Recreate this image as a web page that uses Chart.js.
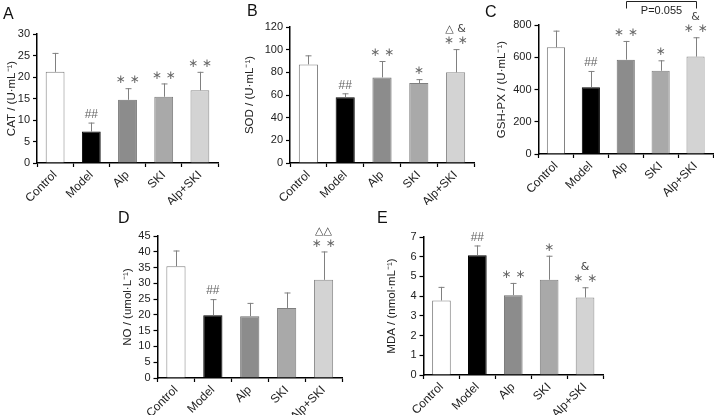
<!DOCTYPE html>
<html>
<head>
<meta charset="utf-8">
<script src="https://cdn.jsdelivr.net/npm/chart.js@4.4.0/dist/chart.umd.min.js"></script>
<style>
  body { margin: 0; background: #fff; }
  #wrap { position: relative; width: 714px; height: 415px; overflow: hidden; }
  canvas { position: absolute; }
  .lbl { position: absolute; font: 16px "Liberation Sans", Arial, sans-serif; color: #111; }
</style>
</head>
<body>
<div id="wrap">
  <canvas id="cA" width="228" height="205" style="left:0;top:0"></canvas>
  <canvas id="cB" width="248" height="205" style="left:232px;top:0"></canvas>
  <canvas id="cC" width="234" height="205" style="left:480px;top:0"></canvas>
  <canvas id="cD" width="250" height="210" style="left:100px;top:205px"></canvas>
  <canvas id="cE" width="250" height="210" style="left:360px;top:205px"></canvas>
  <div class="lbl" style="left:3px;top:5px">A</div>
  <div class="lbl" style="left:247px;top:2px">B</div>
  <div class="lbl" style="left:485px;top:3px">C</div>
  <div class="lbl" style="left:118px;top:209px">D</div>
  <div class="lbl" style="left:377px;top:209px">E</div>
</div>
<script>
const groups = ["Control", "Model", "Alp", "SKI", "Alp+SKI"];
const fills = ["#ffffff", "#000000", "#8c8c8c", "#a9a9a9", "#d3d3d3"];
const edges = ["#7f7f7f", "#000000", "#6f6f6f", "#7f7f7f", "#8a8a8a"];

// A: CAT
const catMean = [21.2, 7.3, 14.7, 15.4, 16.9];
const catSD = [4.4, 2.1, 2.7, 3.1, 4.3];
const catNotes = [[], ["##"], ["∗ ∗"], ["∗ ∗"], ["∗ ∗"]];

// B: SOD
const sodMean = [87, 58, 75.5, 70.5, 80];
const sodSD = [8, 3.5, 14.5, 3.5, 20.5];
const sodNotes = [[], ["##"], ["∗ ∗"], ["∗"], ["∗ ∗", "△ &"]];

// C: GSH-PX
const gshMean = [662, 414, 585, 516, 604];
const gshSD = [103, 101, 116, 65, 120];
const gshNotes = [[], ["##"], ["∗ ∗"], ["∗"], ["∗ ∗", "&"]];

// D: NO
const noMean = [35.4, 19.9, 19.6, 22.2, 31.1];
const noSD = [5, 5.1, 4.2, 4.9, 9];
const noNotes = [[], ["##"], [], [], ["∗ ∗", "△△"]];

// E: MDA
const mdaMean = [3.78, 6.08, 4.05, 4.83, 3.93];
const mdaSD = [0.69, 0.49, 0.62, 1.22, 0.52];
const mdaNotes = [[], ["##"], ["∗ ∗"], ["∗"], ["∗ ∗", "&"]];

const FONT = '"Liberation Sans", Arial, sans-serif';

// draws error bars, significance marks and the optional bracket
const errPlugin = {
  id: "errbars",
  afterDatasetsDraw(chart, args, opts) {
    const ctx = chart.ctx;
    const y = chart.scales.y;
    const vals = chart.data.datasets[0].data;
    const bars = chart.getDatasetMeta(0).data;
    ctx.save();
    ctx.textAlign = "center";
    ctx.textBaseline = "middle";
    bars.forEach((bar, i) => {
      const x = Math.round(bar.x) + 0.5;
      const top = y.getPixelForValue(vals[i] + opts.sd[i]);
      ctx.strokeStyle = "#808080";
      ctx.lineWidth = 1;
      ctx.beginPath();
      ctx.moveTo(x, bar.y);
      ctx.lineTo(x, top);
      ctx.moveTo(x - 3, top + 0.5);
      ctx.lineTo(x + 3, top + 0.5);
      ctx.stroke();
      opts.notes[i].forEach((t, k) => {
        ctx.fillStyle = k === 0 ? "#666" : "#444";
        ctx.font = (t.indexOf("∗") >= 0 ? "12px " : "11px ") + '"DejaVu Sans", sans-serif';
        if (t === "##") ctx.font = "12px " + FONT;
        ctx.fillText(t, bar.x, top - 8 - k * 12);
      });
    });
    if (opts.bracket) {
      const b = opts.bracket;
      const x1 = Math.round(bars[b.from].x) + 0.5;
      const x2 = Math.round(bars[b.to].x) + 0.5;
      const ty = chart.chartArea.top - 24 + 0.5;
      ctx.strokeStyle = "#222";
      ctx.beginPath();
      ctx.moveTo(x1, ty + 7);
      ctx.lineTo(x1, ty);
      ctx.lineTo(x2, ty);
      ctx.lineTo(x2, ty + 7);
      ctx.stroke();
      ctx.fillStyle = "#222";
      ctx.font = "11px " + FONT;
      ctx.fillText(b.text, (x1 + x2) / 2, ty + 9);
    }
    ctx.restore();
  }
};

function makeChart(id, mean, sd, notes, cfg) {
  new Chart(document.getElementById(id), {
    type: "bar",
    data: {
      labels: groups,
      datasets: [{
        data: mean,
        backgroundColor: fills,
        borderColor: edges,
        borderWidth: 1,
        categoryPercentage: 1,
        barPercentage: 0.52
      }]
    },
    options: {
      responsive: false,
      animation: false,
      devicePixelRatio: 1,
      layout: { padding: { top: cfg.top, right: cfg.right, left: 0, bottom: 0 } },
      plugins: {
        legend: { display: false },
        tooltip: { enabled: false },
        errbars: { sd: sd, notes: notes, bracket: cfg.bracket }
      },
      scales: {
        x: {
          afterFit: (s) => { s.height = cfg.xh; },
          border: { color: "#000", width: 1.5 },
          grid: { drawOnChartArea: false, color: "#000", tickLength: 4, tickWidth: 1.2 },
          ticks: { maxRotation: 45, minRotation: 45, autoSkip: false, padding: 1,
                   color: "#222", font: { family: FONT, size: 12 } }
        },
        y: {
          min: 0, max: cfg.max,
          afterFit: (s) => { s.width = cfg.yw; },
          border: { color: "#000", width: 1.5 },
          grid: { drawOnChartArea: false, color: "#000", tickLength: 4, tickWidth: 1.2 },
          ticks: { stepSize: cfg.step, autoSkip: false, padding: 3, color: "#222",
                   font: { family: FONT, size: 11 } },
          title: { display: true, text: cfg.title, color: "#222",
                   font: { family: FONT, size: 11.5 }, padding: { top: cfg.tpad, bottom: 0 } }
        }
      }
    },
    plugins: [errPlugin]
  });
}

makeChart("cA", catMean, catSD, catNotes,
  { max: 30, step: 5, title: "CAT / (U·mL⁻¹)", top: 34, right: 10, xh: 42, yw: 37, tpad: 5 });
makeChart("cB", sodMean, sodSD, sodNotes,
  { max: 120, step: 20, title: "SOD / (U·mL⁻¹)", top: 27, right: 6, xh: 42, yw: 58, tpad: 11 });
makeChart("cC", gshMean, gshSD, gshNotes,
  { max: 800, step: 200, title: "GSH-PX / (U·mL⁻¹)", top: 25, right: 1, xh: 51, yw: 58.5, tpad: 15,
    bracket: { from: 2, to: 4, text: "P=0.055" } });
makeChart("cD", noMean, noSD, noNotes,
  { max: 45, step: 5, title: "NO / (umol·L⁻¹)", top: 31, right: 8, xh: 37, yw: 57.5, tpad: 21 });
makeChart("cE", mdaMean, mdaSD, mdaNotes,
  { max: 7, step: 1, title: "MDA / (nmol·mL⁻¹)", top: 32, right: 7, xh: 40, yw: 63.5, tpad: 25 });
</script>
</body>
</html>
